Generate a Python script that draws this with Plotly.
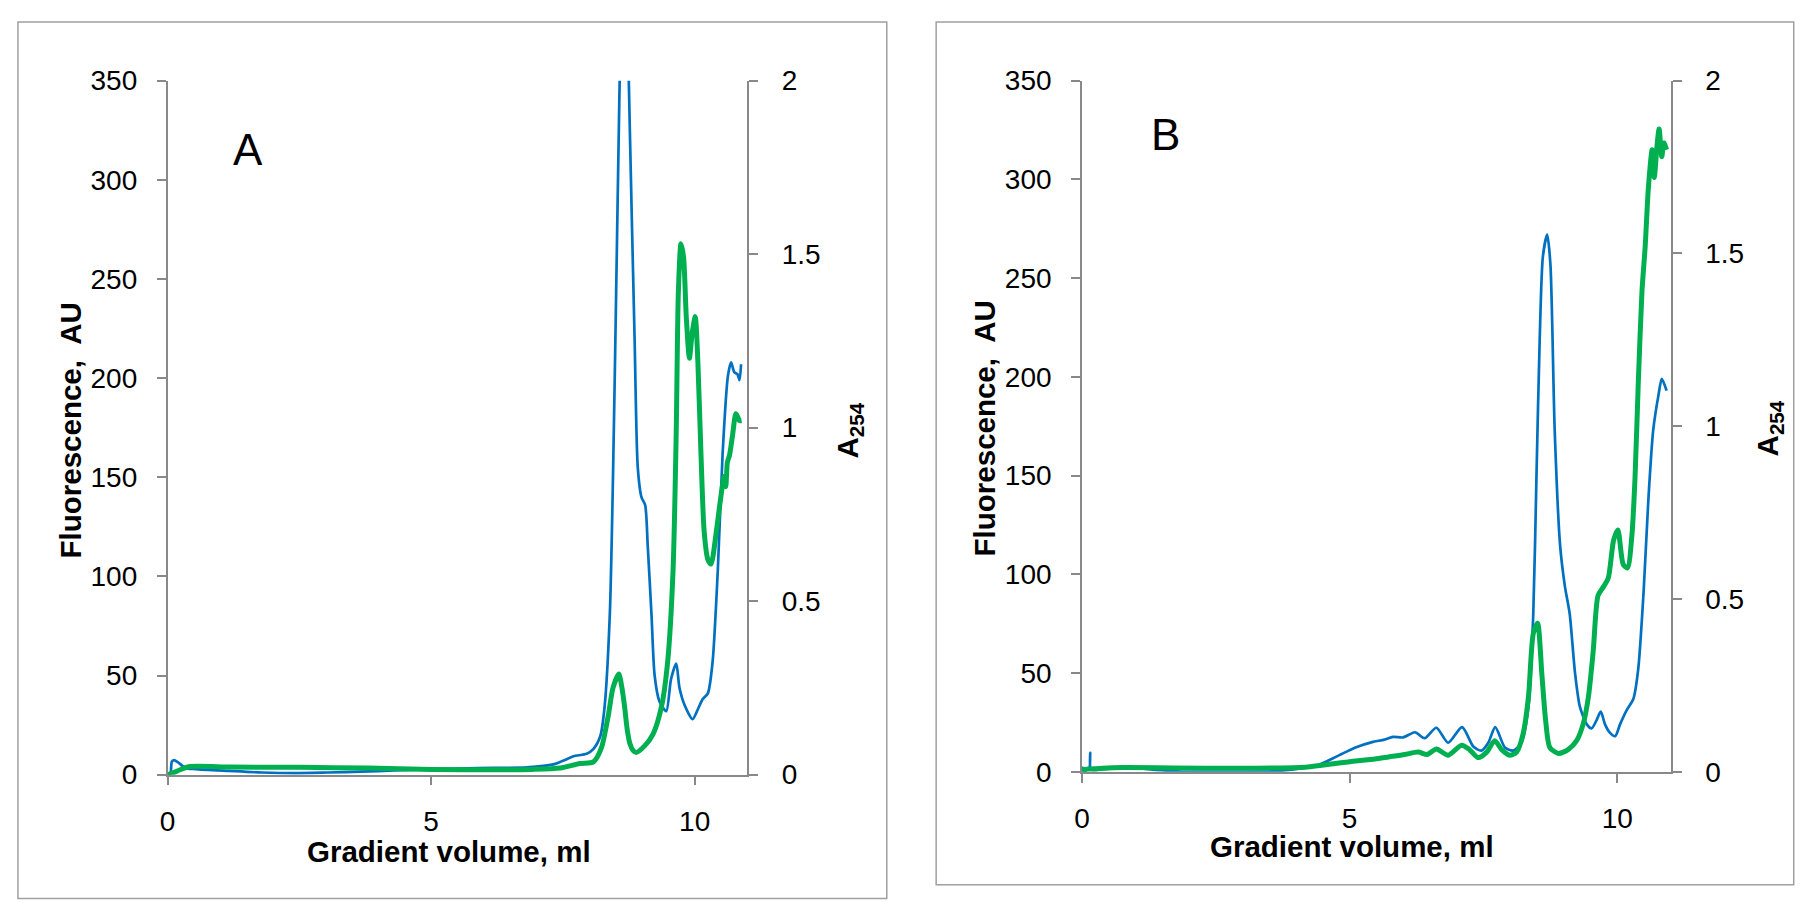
import plotly.graph_objects as go

# ---------------- data ----------------
# Panel A : fluorescence (left axis) and A254 (right axis) vs gradient volume (ml)
a_fl_x = [0.0, 0.05, 0.08, 0.12, 0.2, 0.34, 0.53, 1.16, 1.79, 2.42, 3.04, 3.67, 4.30, 4.93, 5.56, 6.19, 6.82,
          7.32, 7.55, 7.70, 7.95, 8.08, 8.21, 8.29, 8.39, 8.45, 8.51, 8.57, 8.63, 8.69, 8.75, 8.80, 8.86, 8.92,
          8.99, 9.06, 9.11, 9.18, 9.24, 9.33, 9.46, 9.55, 9.65, 9.71, 9.81, 9.96, 10.06, 10.15, 10.25, 10.34,
          10.44, 10.53, 10.63, 10.69, 10.75, 10.81, 10.85, 10.88]
a_fl_y = [0, 0, 6.5, 7.3, 6.2, 3.4, 2.8, 1.9, 1.1, 0.8, 1.1, 1.5, 2.1, 2.8, 3.1, 3.4, 3.7,
          5.2, 7.5, 9.3, 10.5, 13, 19.5, 34, 81, 150, 243, 340, 420, 440, 350, 289, 220, 155,
          140, 136, 115, 81, 50, 37, 32, 48, 56, 44, 35, 28, 33, 38, 41, 57,
          104, 162, 201, 208, 203, 202, 199, 207]
a_abs_x = [0.0, 0.1, 0.25, 0.4, 1.2, 2.5, 3.8, 5.0, 6.3, 6.9, 7.45, 7.82, 8.08, 8.23, 8.36, 8.45, 8.56, 8.62,
           8.67, 8.72, 8.77, 8.83, 8.89, 9.05, 9.21, 9.37, 9.49, 9.59, 9.65, 9.69, 9.74, 9.79, 9.84, 9.90,
           9.95, 10.01, 10.06, 10.12, 10.18, 10.25, 10.31, 10.41, 10.50, 10.56, 10.59, 10.62, 10.66, 10.72,
           10.78, 10.82, 10.85, 10.89]
a_abs_y = [0, 0.005, 0.015, 0.023, 0.022, 0.021, 0.019, 0.015, 0.014, 0.015, 0.019, 0.032, 0.037, 0.077, 0.17,
           0.25, 0.29, 0.25, 0.196, 0.13, 0.09, 0.07, 0.064, 0.083, 0.117, 0.196, 0.33, 0.59, 0.99, 1.39, 1.53,
           1.49, 1.32, 1.20, 1.27, 1.32, 1.19, 0.92, 0.70, 0.62, 0.607, 0.70, 0.805, 0.86, 0.83, 0.90, 0.92,
           0.98, 1.04, 1.03, 1.02, 1.02]

# Panel B
b_fl_x = [0.0, 0.05, 0.1, 0.14, 0.155, 0.17, 0.39, 0.89, 1.38, 1.88, 2.31, 2.93, 3.55, 4.11, 4.42, 4.80, 5.11,
          5.42, 5.65, 5.81, 6.0, 6.22, 6.40, 6.62, 6.84, 7.10, 7.31, 7.46, 7.59, 7.72, 7.90, 8.05, 8.21, 8.34,
          8.43, 8.49, 8.55, 8.61, 8.69, 8.75, 8.83, 8.93, 9.02, 9.11, 9.21, 9.30, 9.43, 9.52, 9.61, 9.69, 9.77,
          9.86, 9.96, 10.05, 10.17, 10.30, 10.39, 10.49, 10.58, 10.67, 10.77, 10.83, 10.92]
b_fl_y = [2.6, 0, 1.8, 2, 9.6, 1, 1.3, 2.1, 1, 0, 0, 0, 0.2, 1.8, 3.4, 8.3, 12.3,
          15, 16.3, 17.7, 17.4, 20, 17, 22.3, 14.7, 22.6, 12.8, 10.7, 14.7, 22.6, 12.3, 10.7, 14.7, 33,
          80, 150, 219, 261, 272, 257, 173, 115, 94, 80, 50, 33, 24, 22, 26, 30.5, 24,
          19.8, 18, 24, 31, 37, 52, 91, 138, 173, 191, 199, 193]
b_abs_x = [0.0, 0.39, 0.76, 1.69, 2.93, 4.17, 4.48, 4.84, 5.1, 5.47, 5.73, 6.03, 6.28, 6.45, 6.62, 6.84, 7.09,
           7.24, 7.40, 7.56, 7.71, 7.84, 7.99, 8.12, 8.24, 8.34, 8.43, 8.51, 8.59, 8.66, 8.74, 8.90, 9.08, 9.24,
           9.36, 9.46, 9.55, 9.64, 9.74, 9.83, 9.93, 10.01, 10.11, 10.19, 10.27, 10.33, 10.39, 10.46, 10.52,
           10.58, 10.65, 10.69, 10.74, 10.78, 10.83, 10.87, 10.92]
b_abs_y = [0.006, 0.01, 0.012, 0.011, 0.01, 0.013, 0.019, 0.026, 0.031, 0.037, 0.043, 0.05, 0.057, 0.05, 0.066,
           0.048, 0.077, 0.064, 0.041, 0.057, 0.09, 0.064, 0.048, 0.057, 0.11, 0.217, 0.40, 0.43, 0.283, 0.15,
           0.07, 0.053, 0.064, 0.09, 0.137, 0.217, 0.35, 0.51, 0.535, 0.56, 0.67, 0.70, 0.60, 0.59, 0.68, 0.85,
           1.12, 1.39, 1.52, 1.69, 1.80, 1.72, 1.81, 1.86, 1.78, 1.82, 1.80]

x_ticks = [0, 5, 10]
fl_ticks = [0, 50, 100, 150, 200, 250, 300, 350]
abs_ticks = [0, 0.5, 1, 1.5, 2]
panel_labels = ["A", "B"]
x_title = "Gradient volume, ml"
fl_title = "Fluorescence,\u00a0 AU"
abs_title = "<b>A</b><sub><b>254</b></sub>"

# ---------------- styling / geometry ----------------
W, H = 1801, 902
BLUE = "#0070C0"
GREEN = "#00B050"
AXC = "#898989"
FRAME = "#A0A0A0"
FONT = "Arial, Liberation Sans, sans-serif"


def px(v):
    return v / W


def py(v):
    return 1 - v / H


fig = go.Figure()
fig.add_trace(go.Scatter(x=a_fl_x, y=a_fl_y, mode="lines", line=dict(color=BLUE, width=2.7, shape="spline", smoothing=0.7),
                         xaxis="x", yaxis="y", showlegend=False))
fig.add_trace(go.Scatter(x=a_abs_x, y=a_abs_y, mode="lines", line=dict(color=GREEN, width=5, shape="spline", smoothing=0.7),
                         xaxis="x", yaxis="y2", showlegend=False))
fig.add_trace(go.Scatter(x=b_fl_x, y=b_fl_y, mode="lines", line=dict(color=BLUE, width=2.7, shape="spline", smoothing=0.7),
                         xaxis="x2", yaxis="y3", showlegend=False))
fig.add_trace(go.Scatter(x=b_abs_x, y=b_abs_y, mode="lines", line=dict(color=GREEN, width=5, shape="spline", smoothing=0.7),
                         xaxis="x2", yaxis="y4", showlegend=False))

axis_common = dict(showline=True, linecolor=AXC, linewidth=1.5, ticks="outside", ticklen=9, tickwidth=1.5,
                   tickcolor=AXC, showgrid=False, zeroline=False, tickfont=dict(family=FONT, size=28, color="black"))

panels = [
    dict(x0=160.3, x1=742.7, y0=786.7, y1=68.0),
    dict(x0=1078.7, x1=1670.3, y0=783.7, y1=68.0),
]

layout = dict(width=W, height=H, margin=dict(l=0, r=0, t=0, b=0), plot_bgcolor="white", paper_bgcolor="white",
              showlegend=False)

for i, p in enumerate(panels):
    xa = "xaxis" if i == 0 else "xaxis2"
    ya_l = "yaxis" if i == 0 else "yaxis3"
    ya_r = "yaxis2" if i == 0 else "yaxis4"
    xid = "x" if i == 0 else "x2"
    yid_l = "y" if i == 0 else "y3"
    layout[xa] = dict(axis_common, domain=[px(p["x0"]), px(p["x1"])], range=[0, 11], tickvals=x_ticks,
                      anchor=yid_l, ticklabelstandoff=12)
    layout[ya_l] = dict(axis_common, domain=[py(p["y0"]), py(p["y1"])], range=[0, 350], tickvals=fl_ticks,
                        anchor=xid, ticklabelstandoff=14)
    layout[ya_r] = dict(axis_common, domain=[py(p["y0"]), py(p["y1"])], range=[0, 2], tickvals=abs_ticks,
                        anchor=xid, overlaying=yid_l, side="right", ticklabelstandoff=18)

fig.update_layout(**layout)

# panel frames
fig.add_shape(type="rect", xref="paper", yref="paper", x0=px(10), x1=px(882.7), y0=py(915), y1=py(7.3),
              line=dict(color=FRAME, width=1.5), layer="below")
fig.add_shape(type="rect", xref="paper", yref="paper", x0=px(932.3), x1=px(1793.7), y0=py(900.7), y1=py(7.3),
              line=dict(color=FRAME, width=1.5), layer="below")

ann = []
title_font = dict(family=FONT, size=29.5, color="black")
label_pos = [(241, 139), (1163, 123.5)]
xt_pos = [(443, 866), (1350, 861.5)]
flt_pos = [(63, 430.5), (981, 428.5)]
abt_pos = [(845, 430), (1769, 428)]
for i in range(2):
    ann.append(dict(text=panel_labels[i], x=px(label_pos[i][0]), y=py(label_pos[i][1]), xref="paper", yref="paper",
                    showarrow=False, xanchor="center", yanchor="middle", font=dict(family=FONT, size=44, color="black")))
    ann.append(dict(text="<b>" + x_title + "</b>", x=px(xt_pos[i][0]), y=py(xt_pos[i][1]), xref="paper", yref="paper",
                    showarrow=False, xanchor="center", yanchor="middle", font=title_font))
    ann.append(dict(text="<b>" + fl_title + "</b>", x=px(flt_pos[i][0]), y=py(flt_pos[i][1]), xref="paper", yref="paper",
                    showarrow=False, xanchor="center", yanchor="middle", textangle=-90, font=title_font))
    ann.append(dict(text=abs_title, x=px(abt_pos[i][0]), y=py(abt_pos[i][1]), xref="paper", yref="paper",
                    showarrow=False, xanchor="center", yanchor="middle", textangle=-90, font=title_font))
fig.update_layout(annotations=ann)

fig.write_html("out.html", config={"displayModeBar": False},
               post_script="document.documentElement.style.margin='0';document.body.style.margin='0';"
                           "document.body.style.overflow='hidden';")
